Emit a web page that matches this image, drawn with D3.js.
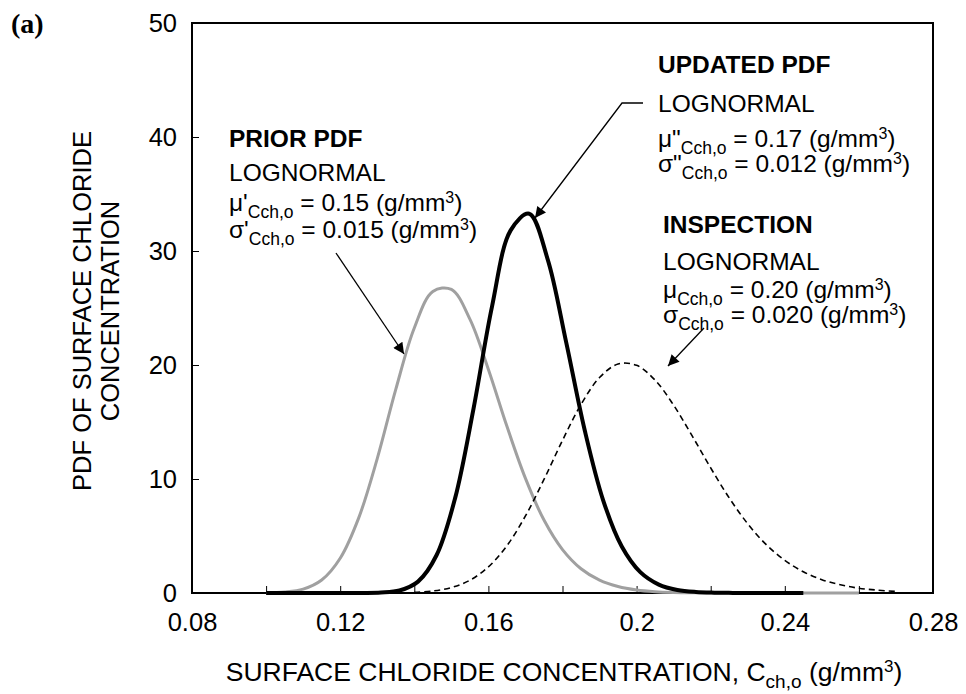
<!DOCTYPE html>
<html><head><meta charset="utf-8">
<script src="https://cdn.jsdelivr.net/npm/d3@7"></script>
<style>
html,body{margin:0;padding:0;background:#fff;}
text{font-family:"Liberation Sans",Arial,sans-serif;fill:#000;}
</style></head>
<body>
<svg id="chart" width="966" height="694"></svg>
<script>
// ---- data ----
const priorX = [0.100,0.105,0.110,0.115,0.120,0.125,0.130,0.135,0.140,0.145,0.150,0.155,0.160,0.165,0.170,0.175,0.180,0.185,0.190,0.195,0.200,0.205,0.210,0.215,0.220,0.230,0.260];
const priorY = [0.01,0.08,0.34,1.14,3.05,6.59,11.79,17.86,23.25,26.45,26.63,24.02,19.61,14.62,10.05,6.40,3.81,2.13,1.13,0.57,0.27,0.12,0.05,0.02,0.01,0,0];
const updatedX = [0.100,0.120,0.126,0.131,0.136,0.141,0.146,0.151,0.156,0.161,0.166,0.171,0.176,0.181,0.186,0.191,0.196,0.201,0.206,0.211,0.216,0.221,0.226,0.231,0.245];
const updatedY = [0,0,0.004,0.04,0.22,1.00,3.31,8.30,16.20,25.17,31.81,33.27,29.27,21.98,14.27,8.11,4.08,1.83,0.74,0.27,0.09,0.03,0.01,0,0];
const inspX = [0.140,0.145,0.150,0.155,0.160,0.165,0.170,0.175,0.180,0.185,0.190,0.195,0.200,0.205,0.210,0.215,0.220,0.225,0.230,0.235,0.240,0.245,0.250,0.255,0.260,0.265,0.270];
const inspY = [0.06,0.18,0.48,1.12,2.29,4.15,6.76,9.96,13.39,16.54,18.90,20.09,19.97,18.67,16.47,13.78,10.97,8.34,6.07,4.24,2.86,1.86,1.17,0.72,0.42,0.25,0.14];
const xTicks = [0.08,0.10,0.12,0.14,0.16,0.18,0.20,0.22,0.24,0.26,0.28];
const xTickLabels = {"0.08":"0.08","0.12":"0.12","0.16":"0.16","0.2":"0.2","0.24":"0.24","0.28":"0.28"};
const yTicks = [0,10,20,30,40,50];

const svg = d3.select("#chart");
const L = 192, R = 933, T = 23, B = 593;
const x = d3.scaleLinear().domain([0.08,0.28]).range([L,R]);
const y = d3.scaleLinear().domain([0,50]).range([B,T]);

// axes (inward ticks)
const xAxis = d3.axisBottom(x).tickValues(xTicks).tickSize(-7).tickPadding(20)
  .tickFormat(d => xTickLabels[String(+d.toFixed(2))] || "");
const gx = svg.append("g").attr("transform",`translate(0,${B})`).call(xAxis);
const yAxis = d3.axisLeft(y).tickValues(yTicks).tickSize(-7).tickPadding(15).tickFormat(d3.format("d"));
const gy = svg.append("g").attr("transform",`translate(${L},0)`).call(yAxis);
[gx,gy].forEach(g=>{
  g.select(".domain").remove();
  g.selectAll(".tick line").attr("stroke","#000").attr("stroke-width",1);
  g.selectAll(".tick text").style("font-size","25.5px").attr("fill","#000");
});

// frame
svg.append("rect").attr("x",L).attr("y",T).attr("width",R-L).attr("height",B-T)
  .attr("fill","none").attr("stroke","#000").attr("stroke-width",2);

// curves
const line = d3.line().x(d=>x(d[0])).y(d=>y(d[1])).curve(d3.curveCatmullRom.alpha(0.5));
svg.append("path").datum(priorX.map((v,i)=>[v,priorY[i]])).attr("d",line)
  .attr("fill","none").attr("stroke","#a0a0a0").attr("stroke-width",3);
svg.append("path").datum(inspX.map((v,i)=>[v,inspY[i]])).attr("d",line)
  .attr("fill","none").attr("stroke","#000").attr("stroke-width",1.6).attr("stroke-dasharray","6,4");
svg.append("path").datum(updatedX.map((v,i)=>[v,updatedY[i]])).attr("d",line)
  .attr("fill","none").attr("stroke","#000").attr("stroke-width",4);

// axis titles
svg.append("text").attr("x",564).attr("y",681).attr("text-anchor","middle").style("font-size","26.5px")
  .call(t=>{
    t.append("tspan").text("SURFACE CHLORIDE CONCENTRATION, C");
    t.append("tspan").style("font-size","19px").attr("dy",7).text("ch,o");
    t.append("tspan").attr("dy",-7).text(" (g/mm");
    t.append("tspan").style("font-size","17px").attr("dy",-9).text("3");
    t.append("tspan").attr("dy",9).text(")");
  });
const yt = svg.append("text").attr("transform",`translate(91,${(T+B)/2+3}) rotate(-90)`)
  .attr("text-anchor","middle").style("font-size","25.5px");
yt.append("tspan").attr("x",0).attr("dy",0).text("PDF OF SURFACE CHLORIDE");
yt.append("tspan").attr("x",0).attr("dy",28).text("CONCENTRATION");

// panel label
svg.append("text").attr("x",11).attr("y",33)
  .style("font-family","'Liberation Serif','Times New Roman',serif")
  .style("font-weight","bold").style("font-size","28px").text("(a)");

// annotation blocks
function paramLine(x0,y0,sym,val){
  const t = svg.append("text").attr("x",x0).attr("y",y0).style("font-size","24.5px");
  t.append("tspan").text(sym);
  t.append("tspan").style("font-size","17.5px").attr("dy",7).text("Cch,o");
  t.append("tspan").attr("dy",-7).text(" = "+val+" (g/mm");
  t.append("tspan").style("font-size","16px").attr("dy",-8).text("3");
  t.append("tspan").attr("dy",8).text(")");
}
function block(x0,yTitle,title,yLog,yMu,muSym,muVal,ySig,sigSym,sigVal){
  svg.append("text").attr("x",x0).attr("y",yTitle).style("font-size","24.5px").style("font-weight","bold").text(title);
  svg.append("text").attr("x",x0).attr("y",yLog).style("font-size","24.5px").text("LOGNORMAL");
  paramLine(x0,yMu,muSym,muVal);
  paramLine(x0,ySig,sigSym,sigVal);
}
block(229,147,"PRIOR PDF",181,211,"\u03bc'","0.15",238,"\u03c3'","0.015");
block(658,73,"UPDATED PDF",112,147,"\u03bc\"","0.17",172,"\u03c3\"","0.012");
block(663,233,"INSPECTION",270,298,"\u03bc","0.20",323,"\u03c3","0.020");

// arrows
svg.append("defs").append("marker").attr("id","ah").attr("viewBox","0 0 10 10")
  .attr("refX",10).attr("refY",5).attr("markerWidth",15).attr("markerHeight",11)
  .attr("markerUnits","userSpaceOnUse").attr("orient","auto")
  .append("path").attr("d","M0,0 L10,5 L0,10 Z").attr("fill","#000");
function arrow(pts){
  svg.append("path").attr("d",d3.line()(pts)).attr("fill","none").attr("stroke","#000")
    .attr("stroke-width",1.3).attr("marker-end","url(#ah)");
}
arrow([[336,253],[404,354]]);
arrow([[643,103],[622,103],[535,218]]);
arrow([[704,328],[668,366]]);
</script>
</body></html>
